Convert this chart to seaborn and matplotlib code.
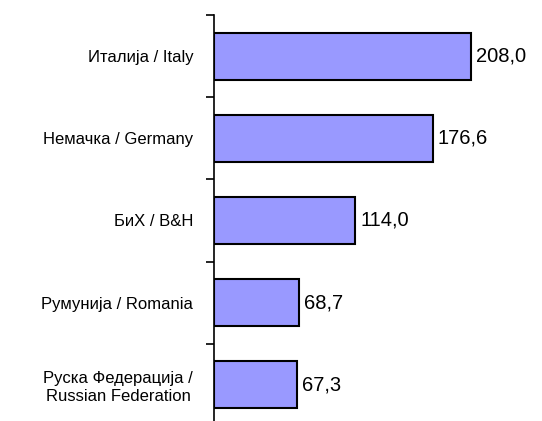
import numpy as np
import pandas as pd
import seaborn as sns
import matplotlib.pyplot as plt

countries = ["Италија / Italy", "Немачка / Germany", "БиХ / B&H",
             "Румунија / Romania", "Руска Федерација /\nRussian Federation"]
values = [208.0, 176.6, 114.0, 68.7, 67.3]

df = pd.DataFrame({"country": countries, "value": values})

sns.set_style("white")
plt.rcParams['font.family'] = ['Liberation Sans', 'DejaVu Sans']
plt.rcParams['text.color'] = 'black'

fig = plt.figure(figsize=(5.42, 4.21), dpi=100)
ax = fig.add_axes([214 / 542, 0, 1 - 214 / 542, 1 - 15 / 421])

sns.barplot(data=df, x="value", y="country", orient="h", color="#9999FF",
            saturation=1, edgecolor="black", linewidth=1.5, width=0.57, ax=ax)

for i, v in enumerate(values):
    ax.text(v + 4, i, f"{v:.1f}".replace(".", ","), va="center", ha="left",
            fontsize=14.5, color="black")

ax.set_xlim(0, 265)
ax.set_ylim(4.44, -0.5)
ax.set_xlabel("")
ax.set_ylabel("")
ax.set_xticks([])
for s in ["top", "right", "bottom"]:
    ax.spines[s].set_visible(False)
ax.spines["left"].set_linewidth(1.2)
ax.spines["left"].set_color("black")

ax.set_yticks(np.arange(len(countries)))
ax.set_yticklabels(countries, fontsize=12, multialignment="center", color="black")
ax.tick_params(axis="y", which="major", length=0, pad=15)
ax.set_yticks(np.arange(-0.5, 4, 1), minor=True)
ax.tick_params(axis="y", which="minor", length=6, width=1.2, color="black", left=True)

fig.savefig("out.png", dpi=100)
